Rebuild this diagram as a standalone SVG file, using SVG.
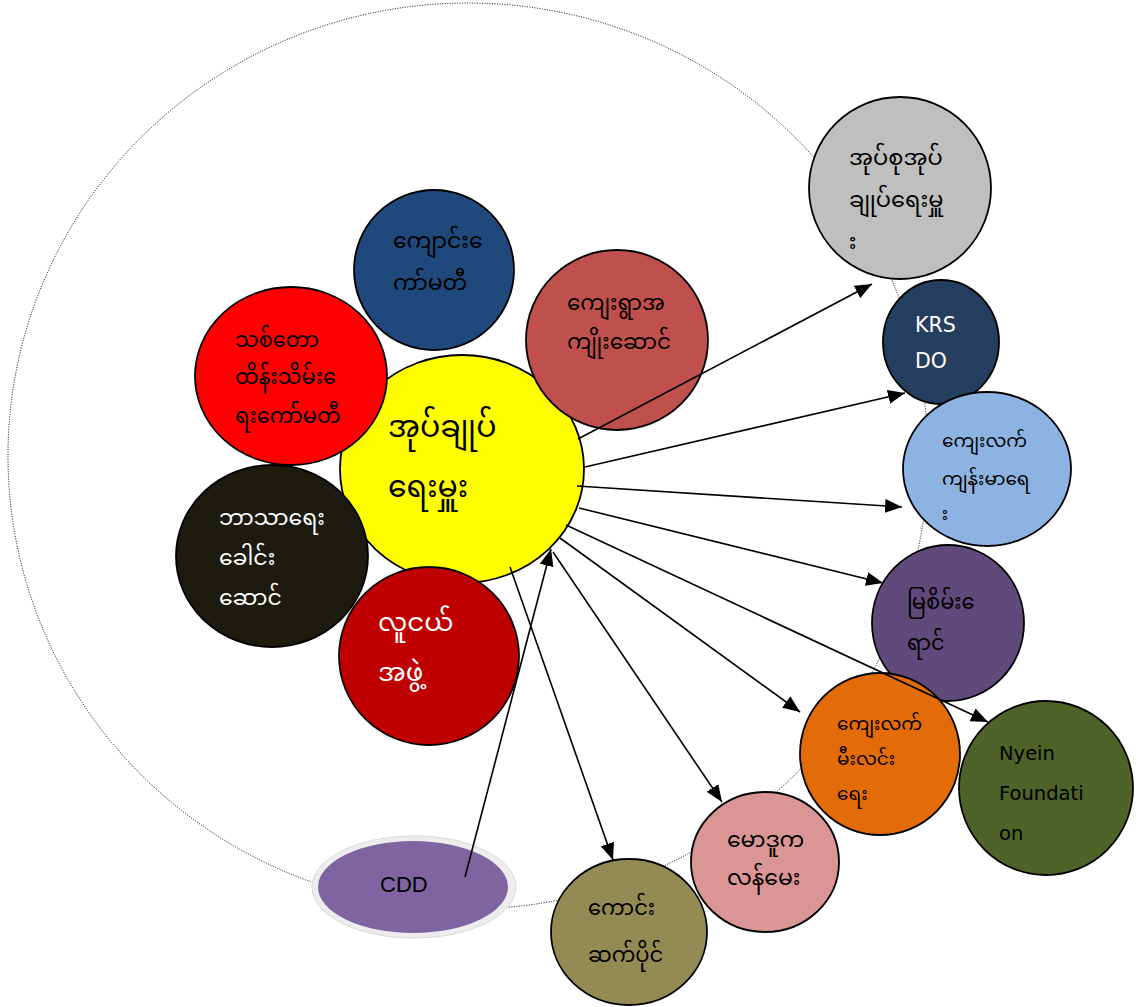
<svg xmlns="http://www.w3.org/2000/svg" width="1142" height="1007" viewBox="0 0 1142 1007">
<style>
.node{stroke:#000;stroke-width:1.8}
.my{font-family:"Noto Sans Myanmar","Myanmar Text","Padauk","Noto Sans","DejaVu Sans",sans-serif;font-size:22px;fill:#000}
.lat{font-family:"DejaVu Sans","Liberation Sans",sans-serif;font-size:19.5px}
.w{fill:#fff}
.conn line{stroke:#000;stroke-width:1.6;fill:none}
</style>
<defs>
<marker id="ah" markerUnits="userSpaceOnUse" markerWidth="18" markerHeight="14" refX="17" refY="7" orient="auto">
<path d="M0,0 L17,7 L0,14 z" fill="#000"/>
</marker>
</defs>
<rect width="1142" height="1007" fill="#fff"/>
<ellipse cx="468" cy="456" rx="460" ry="453" fill="none" stroke="#000" stroke-width="1" stroke-dasharray="1 1.5"/>

<g id="n-center"><ellipse class="node" cx="462" cy="469" rx="122" ry="114" fill="#FFFF00"/>
<text class="my" style="font-size:30px"><tspan x="388" y="437">အုပ်ချုပ်</tspan><tspan x="388" y="497">ရေးမှူး</tspan></text></g>
<g id="n-red"><ellipse class="node" cx="291" cy="376" rx="96" ry="89" fill="#FF0000"/>
<text class="my" style="font-size:21px"><tspan x="235" y="347">သစ်တော</tspan><tspan x="235" y="384">ထိန်းသိမ်း&#160;ေ</tspan><tspan x="235" y="423">ရးကော်မတီ</tspan></text></g>
<g id="n-blue"><ellipse class="node" cx="434" cy="270" rx="80" ry="80" fill="#1F497D"/>
<text class="my"><tspan x="393" y="248">ကျောင်း&#160;ေ</tspan><tspan x="393" y="290">ကာ်မတီ</tspan></text></g>
<g id="n-brown"><ellipse class="node" cx="617" cy="340" rx="91" ry="90" fill="#C0504D"/>
<text class="my" style="font-size:21.5px"><tspan x="567" y="310">ကျေးရွာအ</tspan><tspan x="567" y="349">ကျိုးဆောင်</tspan></text></g>
<g id="n-black"><ellipse class="node" cx="272" cy="556" rx="96" ry="91" fill="#1D1B10"/>
<text class="my w"><tspan x="219" y="525">ဘာသာရေး</tspan><tspan x="219" y="565">ခေါင်း</tspan><tspan x="219" y="605">ဆောင်</tspan></text></g>
<g id="n-darkred"><ellipse class="node" cx="429" cy="656" rx="90" ry="89" fill="#C00000"/>
<text class="my w" style="font-size:26px"><tspan x="378" y="631">လူငယ်</tspan><tspan x="378" y="681">အဖွဲ့</tspan></text></g>

<g id="n-gray"><ellipse class="node" cx="900" cy="188" rx="91" ry="91" fill="#BFBFBF"/>
<text class="my" style="font-size:22.5px"><tspan x="849" y="165">အုပ်စုအုပ်</tspan><tspan x="849" y="207">ချုပ်ရေးမှူ</tspan><tspan x="843" y="249">&#160;း</tspan></text></g>
<g id="n-krsdo"><ellipse class="node" cx="941" cy="342" rx="58" ry="62" fill="#243F60"/>
<text class="lat w" style="font-size:20.5px"><tspan x="915" y="332">KRS</tspan><tspan x="915" y="368">DO</tspan></text></g>
<g id="n-lightblue"><ellipse class="node" cx="987" cy="469" rx="84" ry="77" fill="#8DB3E2"/>
<text class="my" style="font-size:18.5px"><tspan x="942" y="447">ကျေးလက်</tspan><tspan x="942" y="485">ကျန်းမာရေ</tspan><tspan x="937" y="520">&#160;း</tspan></text></g>
<g id="n-purple"><ellipse class="node" cx="948" cy="623" rx="76" ry="78" fill="#604A7B"/>
<text class="my" style="font-size:21px"><tspan x="907" y="609">မြစိမ်း&#160;ေ</tspan><tspan x="907" y="650">ရာင်</tspan></text></g>
<g id="n-orange"><ellipse class="node" cx="880" cy="754" rx="80" ry="81" fill="#E36C09"/>
<text class="my" style="font-size:18.5px"><tspan x="837" y="730">ကျေးလက်</tspan><tspan x="837" y="765">မီးလင်း</tspan><tspan x="837" y="800">ရေး</tspan></text></g>
<g id="n-nyein"><ellipse class="node" cx="1046" cy="788" rx="87" ry="87" fill="#4F6228"/>
<text class="lat"><tspan x="999" y="760">Nyein</tspan><tspan x="999" y="800">Foundati</tspan><tspan x="999" y="840">on</tspan></text></g>
<g id="n-pink"><ellipse class="node" cx="765" cy="862" rx="74" ry="70" fill="#D99694"/>
<text class="my"><tspan x="727" y="847">မောဒူက</tspan><tspan x="727" y="885">လန်မေး</tspan></text></g>
<g id="n-tan"><ellipse class="node" cx="629" cy="932" rx="78" ry="73" fill="#948A54"/>
<text class="my" style="font-size:21px"><tspan x="588" y="915">ကောင်း</tspan><tspan x="588" y="962">ဆက်ပိုင်</tspan></text></g>
<g id="n-cdd"><ellipse cx="414" cy="887" rx="102" ry="51" fill="#EDEDED" stroke="#D9D9D9" stroke-width="1"/>
<ellipse cx="413" cy="887" rx="95" ry="46" fill="#8064A2"/>
<text x="380" y="892" style="font-family:'Liberation Sans',Arial,sans-serif;font-size:22px" fill="#000">CDD</text></g>

<g id="connectors" class="conn">
<line x1="578" y1="439" x2="872" y2="284" marker-end="url(#ah)"/>
<line x1="585" y1="467" x2="905" y2="393" marker-end="url(#ah)"/>
<line x1="577" y1="486" x2="902" y2="507" marker-end="url(#ah)"/>
<line x1="579" y1="508" x2="883" y2="583" marker-end="url(#ah)"/>
<line x1="566" y1="525" x2="988" y2="722" marker-end="url(#ah)"/>
<line x1="560" y1="538" x2="800" y2="712" marker-end="url(#ah)"/>
<line x1="553" y1="552" x2="722" y2="802" marker-end="url(#ah)"/>
<line x1="510" y1="567" x2="613" y2="860" marker-end="url(#ah)"/>
<line x1="465" y1="877" x2="551" y2="549" marker-end="url(#ah)"/>
</g>
</svg>
